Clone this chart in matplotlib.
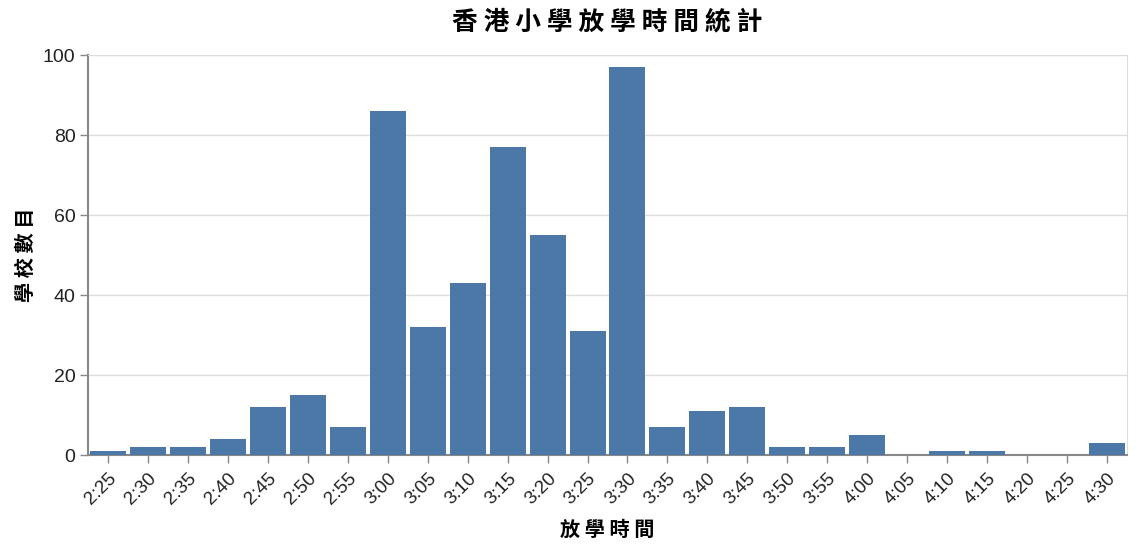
import matplotlib
matplotlib.use("Agg")
from matplotlib import pyplot as plt
import numpy as np

times = ["2:25", "2:30", "2:35", "2:40", "2:45", "2:50", "2:55", "3:00", "3:05",
         "3:10", "3:15", "3:20", "3:25", "3:30", "3:35", "3:40", "3:45", "3:50",
         "3:55", "4:00", "4:05", "4:10", "4:15", "4:20", "4:25", "4:30"]
counts = [1, 2, 2, 4, 12, 15, 7, 86, 32, 43, 77, 55, 31, 97, 7, 11, 12, 2,
          2, 5, 0, 1, 1, 0, 0, 3]
y_ticks = [0, 20, 40, 60, 80, 100]

plt.rcParams['font.family'] = ['Liberation Sans', 'Noto Sans CJK TC', 'DejaVu Sans']

fig = plt.figure(figsize=(11.38, 5.5), dpi=100)
ax = fig.add_axes([88/1138, 1 - 455/550, (1127 - 88)/1138, 400/550])

x = np.arange(len(times))
ax.bar(x, counts, width=0.9, color="#4c78a8", zorder=3)

ax.set_xlim(-0.5, len(times) - 0.5)
ax.set_ylim(0, 100)
ax.set_yticks(y_ticks)
ax.set_xticks(x)
ax.set_xticklabels(times, rotation=45, ha="right", rotation_mode="anchor")
ax.tick_params(axis="both", colors="#888888", length=6, width=1)
ax.tick_params(axis="y", labelsize=14, labelcolor="#222222", pad=3)
ax.tick_params(axis="x", labelsize=13.5, labelcolor="#222222", pad=5)

ax.grid(axis="y", color="#dddddd", linewidth=1, zorder=0)
ax.set_axisbelow(True)
for side in ["left", "bottom"]:
    ax.spines[side].set_color("#888888")
    ax.spines[side].set_linewidth(1.5)
ax.spines["top"].set_color("#dddddd")
ax.spines["right"].set_color("#dddddd")

# spaced characters, like the letter spacing of the original
cjk = ['Noto Sans CJK TC', 'DejaVu Sans']
ax.set_xlabel("放 學 時 間", family=cjk, fontsize=14.5, fontweight="bold")
ax.xaxis.set_label_coords((607 - 88) / 1039, (455 - 529) / 400)
ax.xaxis.label.set_va("center")
ax.set_ylabel("學 校 數 目", family=cjk, fontsize=14.5, fontweight="bold")
ax.yaxis.set_label_coords((25 - 88) / 1039, 0.5)
ax.yaxis.label.set_va("center")
fig.suptitle("香 港 小 學 放 學 時 間 統 計", family=cjk, fontsize=18.5, fontweight="bold",
             x=607/1138, y=1 - 21.5/550, va="center")

fig.savefig("out.png", dpi=100)
